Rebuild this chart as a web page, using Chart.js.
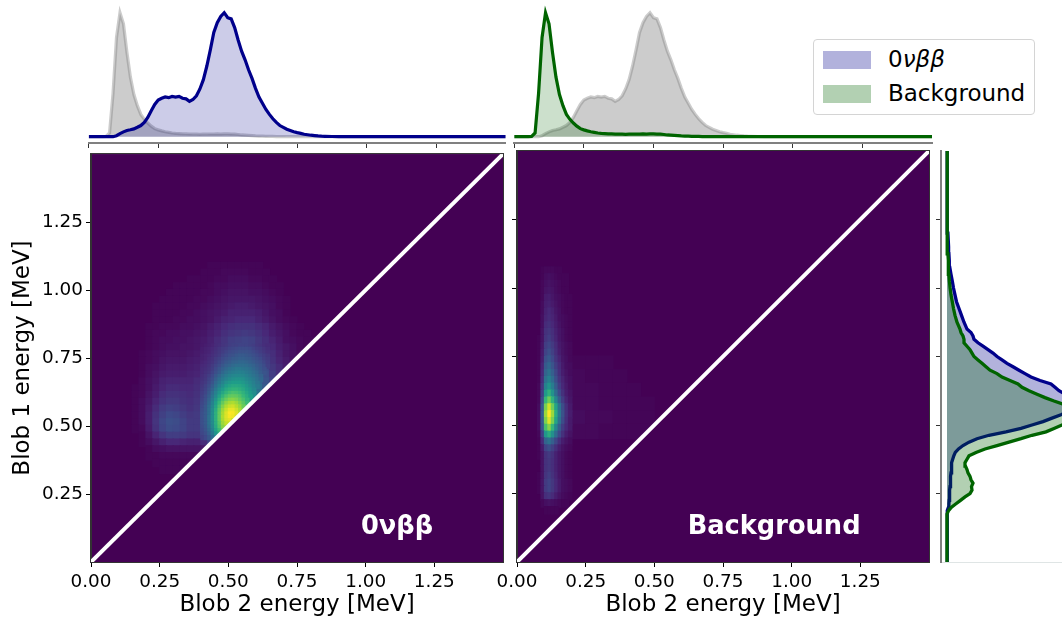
<!DOCTYPE html>
<html><head><meta charset="utf-8">
<style>
html,body{margin:0;padding:0;background:#fff;width:1062px;height:617px;overflow:hidden;font-family:"DejaVu Sans",sans-serif}
canvas{position:absolute}
#legend{position:absolute;left:813px;top:39px;width:220px;height:74px;border:1px solid #d4d4d4;border-radius:4px;background:#fff;box-sizing:content-box}
.sw{position:absolute;left:9px;width:48px;height:18px}
.tx{position:absolute;left:74px;font-size:23px;line-height:26px;color:#000;white-space:nowrap}
</style></head><body>
<canvas id="top1" width="450" height="150" style="left:70px;top:0"></canvas>
<canvas id="top2" width="450" height="150" style="left:500px;top:0"></canvas>
<canvas id="heat1" width="515" height="477" style="left:0;top:140px"></canvas>
<canvas id="heat2" width="450" height="477" style="left:480px;top:140px"></canvas>
<canvas id="side" width="132" height="477" style="left:930px;top:140px"></canvas>
<div id="legend">
 <div class="sw" style="top:11px;background:rgba(0,0,139,.3)"></div><div class="tx" style="top:6px">0<i>νββ</i></div>
 <div class="sw" style="top:45px;background:rgba(0,100,0,.3)"></div><div class="tx" style="top:40px">Background</div>
</div>
<script src="https://cdn.jsdelivr.net/npm/chart.js@4"></script>
<script>
// ---------- 1D spectrum of Blob 2 energy (relative counts)
const blob2Bins = [0,.0125,.025,.0375,.05,.0625,.075,.0875,.1,.1125,.125,.1375,.15,.1625,.175,.1875,.2,.2125,.225,.2375,
 .25,.2625,.275,.2875,.3,.3125,.325,.3375,.35,.3625,.375,.3875,.4,.4125,.425,.4375,.45,.4625,.475,.4875,
 .5,.5125,.525,.5375,.55,.5625,.575,.5875,.6,.6125,.625,.6375,.65,.6625,.675,.6875,.7,.7125,.725,.7375,
 .75,.7625,.775,.7875,.8,.8125,.825,.8375,.85,.875,.9,1,1.25,1.5];
const blob2Signal = [0,0,0,0,0,0,0,0,.8,2.5,3.9,5,5.6,6.3,7.6,9,11.5,15.5,21,26,
 29.5,31,32,31.5,32.5,32,32.5,31,30.5,28.5,30,33,38.5,46,57,70,84,92,97,100,
 96,95,88,78,69,62,54,47,39,32,27,22,18,14.5,11.5,9,7.5,6,5,4,
 3.3,2.7,2,1.6,1.2,.9,.6,.4,.3,.15,0,0,0,0];
const blob2Background = [0,0,0,0,0,.2,3,35,80,100,91,68,48,34,25,18,14,11,8.5,6.5,
 5.5,4.7,4,3.5,3,2.7,2.5,2.3,2.2,2.1,2,2,1.9,2,2,2.1,2.1,2.2,2.1,2.2,
 2.2,2.1,2,1.8,1.4,1.2,1,.8,.6,.5,.4,.3,.2,.2,.1,.1,.1,0,0,0,
 0,0,0,0,0,0,0,0,0,0,0,0,0,0];
// ---------- 1D spectrum of Blob 1 energy (relative counts)
const blob1Bins = [0,.15,.175,.1875,.2,.2125,.225,.2375,.25,.2625,
 .275,.2875,.3,.3125,.325,.3375,.35,.3625,.375,.3875,
 .4,.4125,.425,.4375,.45,.4625,.475,.4875,.5,.5125,
 .525,.5375,.55,.5625,.575,.5875,.6,.6125,.625,.6375,
 .65,.6625,.675,.6875,.7,.7125,.725,.7375,.75,.7625,
 .775,.7875,.8,.8125,.825,.8375,.85,.875,.9,.925,
 .95,.975,1,1.025,1.05,1.075,1.1,1.125,1.15,1.2,
 1.25,1.3,1.35,1.5];
const blob1Signal = [0,0,0,.8,1.5,1.9,2.2,2.4,2.6,2.8,
 3,3.3,3.5,3.8,4,4.3,4.6,4.9,5.7,6.8,
 8.3,11.5,16,22,30,42,59,74,85,96,
 105,114,122,127,130,128,123,118,112,108,
 104,93,84,78,72,66,60,55,50,46,
 41,36,31,27,26,24,20,17,14.5,12,
 9.5,8,6.5,5.3,4,2.8,2.3,1.9,1.6,.9,
 .5,.2,.1,0];
const blob1Background = [0,0,0,1.5,4.5,9,13.5,18,23,25,
 24.5,26,24,23,21,20,18.5,18,20,22,
 29,38,50,62,74,85,99,107,115,123,
 131,134,130,124,117,107,98,90,82,75,
 71,63,55,50,43,39,35,31,27,25,
 23,20,17,17,16,14,13,10,8,6.5,
 5.3,4,3.1,2.4,1.9,1.5,1.2,.9,.6,.3,
 .2,.1,0,0];
// ---------- 2D density of 0vbb: rows by Blob 1 energy (lower bin edge), columns by Blob 2 energy from 0.15 in 0.025 bins
const signalRowEnergy = [1.075,1.05,1.025,1,.975,.95,.925,.9,.875,.85,.825,.8,.775,.75,.725,.7,.675,.65,.625,.6,.575,.55,.525,.5,.475,.45,.425,.4,.375,.35,.325];
const signalRows = [
[0,0,0,0,0,0,0,0,0,0,0,1,1,1,1,1,1,1,1],
[0,0,0,0,0,0,0,0,0,0,1,1,1,2,2,2,2,1,1,1],
[0,0,0,0,0,0,0,0,1,1,1,1,2,2,3,3,3,2,2,1,1],
[0,0,0,0,0,0,1,1,1,1,1,2,3,3,4,4,4,3,3,2,1,1],
[0,0,0,0,0,1,1,1,1,1,2,2,3,4,5,5,5,4,4,3,2,1],
[0,0,0,0,1,1,1,1,1,2,2,3,4,5,6,6,6,6,5,4,3,2,1],
[0,0,0,1,1,1,1,1,2,2,3,4,5,6,7,8,8,7,6,5,4,2,1],
[0,0,0,1,1,1,1,2,2,3,4,5,6,7,9,9,9,9,8,6,4,3,1],
[0,0,0,1,1,1,2,2,3,3,4,5,7,9,10,11,11,11,9,7,5,3,2,1],
[0,0,1,1,2,2,2,3,3,4,5,7,9,11,13,14,14,14,12,10,7,5,3,2,1],
[0,0,1,2,2,3,3,4,4,5,6,8,10,13,15,16,17,16,14,11,8,6,4,2,1,1],
[0,0,1,2,3,3,4,4,5,6,7,9,12,15,18,19,20,19,16,13,10,7,4,3,2,1,1],
[0,0,1,2,3,4,4,5,5,6,8,10,14,18,21,23,23,22,19,15,11,8,6,4,2,1],
[0,1,2,3,4,5,5,5,6,7,9,12,17,21,25,27,27,25,22,17,13,9,6,4,2],
[0,1,2,3,5,6,6,6,7,8,10,14,20,25,30,32,32,29,25,20,14,10,7,4],
[0,1,3,4,6,7,7,7,8,9,12,17,24,30,36,38,37,33,28,22,16,12,8],
[0,1,3,5,7,8,8,8,9,10,14,20,29,36,42,44,42,37,31,24,18,13],
[0,2,4,6,9,10,10,10,10,12,16,24,34,44,50,52,48,42,33,26,20],
[1,2,4,7,10,12,12,11,11,13,18,28,40,52,60,60,54,46,36,28],
[1,2,5,8,12,14,14,13,12,14,20,33,48,62,71,69,60,48,38],
[1,3,6,10,14,16,16,14,13,15,22,38,57,74,85,80,65,50],
[1,3,7,12,17,19,18,16,14,16,25,42,65,86,98,90,72],
[1,3,8,14,19,22,21,18,16,17,26,44,70,92,100,92],
[1,3,8,15,21,24,23,20,17,17,26,44,70,90,92],
[1,2,7,14,20,23,22,20,17,17,24,40,62,78],
[0,1,5,10,15,18,18,17,15,15,21,34,50],
[0,1,3,6,9,11,11,10,9,9,12,20],
[0,0,1,3,4,5,5,5,5,5,6],
[0,0,1,1,2,2,2,2,2,2],
[0,0,0,1,1,1,1,1,1],
[0,0,0,0,1,1,1,1]];
// finer readout of the 0vbb core: columns from 0.4 in 0.0125 bins, rows 0.0125 tall
const coreRowEnergy = [.7875,.775,.7625,.75,.7375,.725,.7125,.7,.6875,.675,.6625,.65,.6375,.625,.6125,.6,.5875,.575,.5625,.55,.5375,.525,.5125,.5,.4875,.475,.4625,.45];
const coreRows = [
[7,8,9,10,12,13,15,16,18,19,19,20,20,20,19,18,16,15,13,12],
[8,9,10,11,13,15,17,18,20,21,22,23,23,23,22,20,18,17,15,13],
[8,9,10,12,14,16,18,20,22,23,24,25,25,25,24,22,20,18,16,14],
[9,10,11,13,15,17,20,22,24,25,27,28,28,27,26,24,22,20,18,16],
[9,10,12,14,17,19,22,24,26,28,29,30,30,29,28,26,24,22,19,17],
[10,11,13,15,18,21,24,27,29,31,32,33,33,32,30,28,26,24,21,18],
[11,12,14,17,20,23,27,30,32,34,36,36,36,35,33,31,28,26,23,19],
[12,13,15,18,22,26,30,33,36,38,40,40,39,38,36,33,30,27,24],
[12,14,16,20,24,28,33,37,40,42,43,44,43,41,39,36,33,29,26],
[13,15,18,22,27,32,37,41,44,46,47,47,46,44,41,38,35,31],
[14,16,20,24,30,36,41,45,48,50,51,51,50,47,44,41,37,33],
[15,17,21,26,33,39,45,50,53,55,55,55,53,50,47,43,39],
[16,19,23,29,36,43,49,55,58,60,60,59,57,53,49,45,41],
[17,20,25,32,40,48,54,60,63,65,65,63,60,56,52,47],
[18,21,27,35,44,52,59,65,69,71,70,68,64,59,54,49],
[19,23,29,38,47,57,65,71,75,76,75,72,67,62,56],
[20,24,31,41,51,62,71,77,81,82,80,76,71,65],
[21,25,33,44,55,67,76,83,87,88,85,80,74,68],
[22,27,35,46,58,71,81,88,92,93,89,84,77],
[23,27,36,48,61,74,85,92,97,97,93,87,80],
[24,28,36,49,63,76,87,95,100,99,95,88],
[24,28,37,49,63,76,88,95,99,98,93],
[24,28,37,49,63,76,87,94,96,92],
[24,28,37,48,62,74,85,91,92],
[23,27,35,46,60,72,82,86],
[22,26,33,44,57,68,78],
[21,24,30,40,52,62],
[19,22,27,35,44]];
// ---------- 2D density of background: narrow strip, columns from 0.0625 in 0.0125 bins, rows 0.025 tall
const backgroundRowEnergy = [1.05,1.025,1,.975,.95,.925,.9,.875,.85,.825,.8,.775,.75,.725,.7,.675,.65,.625,.6,.575,.55,.525,.5,.475,.45,.425,.4,.375,.35,.325,.3,.275,.25,.225,.2,.175];
const backgroundRows = [
[0,0,1,2,2,2,1,1,0,0,0],[0,0,1,3,4,3,2,1,1,1,0],[0,0,2,4,5,4,3,2,1,1,0],[0,0,2,5,6,5,3,2,1,1,0],
[0,0,2,7,8,6,4,3,2,1,1],[0,0,3,8,9,7,5,3,2,1,1],[0,0,3,9,11,9,6,4,2,1,1],[0,0,4,10,12,10,7,4,3,2,1],
[0,0,4,12,14,11,8,5,3,2,1],[0,0,5,14,16,13,9,6,4,2,1],[0,1,5,15,18,14,10,6,4,2,1],[0,1,6,18,21,17,12,7,5,3,2],
[0,1,7,20,24,19,13,8,5,3,2],[0,1,8,24,28,22,15,10,6,4,2],[0,1,10,28,33,26,18,12,7,4,3],[0,1,11,32,38,30,21,13,8,5,3],
[0,1,13,37,44,35,24,15,10,6,4],[0,2,16,44,52,42,29,18,11,7,4],[0,2,19,54,64,51,35,22,14,8,5],[0,2,23,66,78,64,46,29,18,10,6],
[0,3,28,79,93,78,58,38,23,13,7],[0,3,30,85,100,85,62,40,25,14,8],[0,3,28,80,95,80,58,37,23,13,7],[0,3,26,70,82,66,46,29,18,11,7],
[0,2,19,53,62,50,35,22,14,8,5],[0,1,12,32,38,30,21,13,8,5,3],[0,1,7,20,24,19,13,8,5,3,2],[0,1,5,14,17,14,9,6,4,2,1],
[0,0,5,14,16,13,9,6,4,2,1],[0,0,5,14,16,13,9,6,4,2,1],[0,1,5,15,18,14,10,6,4,2,1],[0,1,6,17,20,16,11,7,4,3,2],
[0,1,6,17,20,16,11,7,4,3,2],[0,0,5,13,15,12,8,5,3,2,1],[0,0,2,4,5,4,3,2,1,1,0],[0,0,0,1,1,1,1,0,0,0,0]];
// faint wing of the background density: columns from 0.2 in 0.05 bins, rows 0.05 tall
const wingRowEnergy = [.7,.65,.6,.55,.5,.45];
const wingRows = [[1,1,1,0,0,0],[2,1,1,1,0,0],[2,2,1,1,1,0],[2,2,1,1,1,1],[3,2,2,1,1,1],[2,2,1,1,1,1]];
// ---------- axis and labels
const diagonalEnds = [0,1.5];
const xLabel = 'Blob 2 energy [MeV]', yLabel = 'Blob 1 energy [MeV]';
const panelLabels = ['0νββ','Background'];

const VIRIDIS=[[68,1,84],[72,40,120],[62,74,137],[49,104,142],[38,130,142],[31,158,137],[53,183,121],[109,205,89],[180,222,44],[253,231,37]];
function viridis(v){const t=Math.max(0,Math.min(1,v/100))*(VIRIDIS.length-1),i=Math.min(Math.floor(t),VIRIDIS.length-2),f=t-i;
 const c=VIRIDIS[i].map((a,k)=>Math.round(a+(VIRIDIS[i+1][k]-a)*f));return `rgb(${c})`;}
function cells(rows,rowE,x0,dx,dy){const out=[];rows.forEach((r,j)=>r.forEach((v,i)=>{if(v>0)out.push({x:x0+dx*(i+.5),y:[rowE[j],rowE[j]+dy],v});}));return out;}
const pairs=(xs,ys)=>xs.map((x,i)=>({x,y:ys[i]}));
const BLUE='#00008b',GREEN='#006400',FONT='DejaVu Sans',GRAYS='#808080';
const fit=s=>(scale)=>{if(scale.isHorizontal())scale.height=s;else scale.width=s;};
const noT=(scale)=>{scale.ticks=scale.ticks.filter(t=>t.value<1.49);};
const noTB=(scale)=>{scale.ticks=scale.ticks.filter(t=>t.value<1.49&&t.value>0.01);};
const fmt=v=>Number(v).toFixed(2);
Chart.defaults.animation=false;Chart.defaults.font.family=FONT;Chart.defaults.color='#000';
const quiet={legend:{display:false},tooltip:{enabled:false}};

function heat(id,bars,label,labelX,axisW,padR,showY){
 const labelPlugin={id:'panel',
  beforeDraw(c){const a=c.chartArea,g=c.ctx;g.save();g.fillStyle='#440154';g.fillRect(a.left,a.top,a.width,a.height);g.restore();},
  afterDraw(c){const a=c.chartArea,g=c.ctx;g.save();g.strokeStyle='#333';g.lineWidth=1;g.strokeRect(a.left-.5,a.top-.5,a.width+1,a.height+1);
   g.fillStyle='#fff';g.font=`bold 25.7px "${FONT}"`;g.textAlign='center';g.textBaseline='middle';
   g.fillText(label,c.scales.x.getPixelForValue(labelX),c.scales.y.getPixelForValue(.128));g.restore();}};
 new Chart(document.getElementById(id),{type:'bar',plugins:[labelPlugin],
  data:{datasets:[...bars.map((b,k)=>({type:'bar',data:b.data,barThickness:b.th,grouped:false,order:9-k,inflateAmount:.6,borderWidth:0,
      backgroundColor:ctx=>ctx.raw?viridis(ctx.raw.v):'#440154'})),
    {type:'line',data:pairs(diagonalEnds,diagonalEnds),order:2,borderWidth:0,pointRadius:0,fill:'start',backgroundColor:'#440154',borderColor:'#440154'},
    {type:'line',data:pairs(diagonalEnds,diagonalEnds),order:1,borderWidth:4,pointRadius:0,fill:false,borderColor:'#fff'}]},
  options:{responsive:false,animation:false,layout:{padding:{left:0,right:padR,top:11,bottom:0}},plugins:quiet,
   scales:{
    x:{type:'linear',min:0,max:1.5,offset:false,afterFit:fit(55),afterBuildTicks:noT,
       grid:{offset:false,drawOnChartArea:false,tickLength:5,tickColor:'#000'},border:{color:'#333'},
       ticks:{stepSize:.25,font:{size:18.4},maxRotation:0,autoSkip:false,padding:4,callback:fmt},
       title:{display:true,text:xLabel,font:{size:23,lineHeight:1},padding:{top:0,bottom:0}}},
    y:{type:'linear',min:0,max:1.5,beginAtZero:true,afterFit:fit(axisW),afterBuildTicks:noTB,
       grid:{drawOnChartArea:false,tickLength:5,tickColor:'#000'},border:{color:'#333'},
       ticks:{display:showY,stepSize:.25,font:{size:18.4},padding:3,callback:fmt},
       title:{display:showY,text:yLabel,font:{size:23,lineHeight:1},padding:{top:12,bottom:0}}}
   }}});
}
heat('heat1',[{data:cells(signalRows,signalRowEnergy,.15,.025,.027),th:6.87},{data:cells(coreRows,coreRowEnergy,.4,.0125,.0145),th:3.43}],panelLabels[0],1.114,91,12,true);
heat('heat2',[{data:cells(wingRows,wingRowEnergy,.2,.05,.052),th:13.73},{data:cells(backgroundRows,backgroundRowEnergy,.0625,.0125,.027),th:3.43}],panelLabels[1],.936,37,1,false);

function topHist(id,padL,padR,under,over,underFill,underLine,overFill,overLine){
 new Chart(document.getElementById(id),{type:'line',
  data:{datasets:[
   {data:pairs(blob2Bins,over),order:1,borderColor:overLine,backgroundColor:overFill,borderWidth:3.2,pointRadius:0,fill:{value:0}},
   {data:pairs(blob2Bins,under),order:2,borderColor:underLine,backgroundColor:underFill,borderWidth:3.2,pointRadius:0,fill:{value:0}}]},
  options:{responsive:false,animation:false,layout:{padding:{left:padL,right:padR,top:5,bottom:0}},plugins:quiet,
   scales:{
    x:{type:'linear',min:0,max:1.5,afterFit:fit(7),afterBuildTicks:noT,
       grid:{drawOnChartArea:false,tickLength:5,tickColor:'#333'},border:{color:GRAYS,width:2},
       ticks:{stepSize:.25,display:false}},
    y:{type:'linear',min:-5.08,max:106.2,display:false}}}});
}
const GF='rgba(128,128,128,.4)',GL='rgba(128,128,128,.4)';
topHist('top1',18.7,14.3,blob2Background,blob2Signal,GF,GL,'rgba(0,0,139,.2)',BLUE);
topHist('top2',14.2,18,blob2Signal,blob2Background,GF,GL,'rgba(0,100,0,.2)',GREEN);

new Chart(document.getElementById('side'),{type:'line',
 data:{labels:blob1Bins,datasets:[
  {data:pairs(blob1Background,blob1Bins),order:1,borderColor:GREEN,backgroundColor:'rgba(0,100,0,.3)',borderWidth:3.3,pointRadius:0,fill:{value:0}},
  {data:pairs(blob1Signal,blob1Bins),order:2,borderColor:BLUE,backgroundColor:'rgba(0,0,139,.3)',borderWidth:3.3,pointRadius:0,fill:{value:0}}]},
 options:{indexAxis:'y',responsive:false,animation:false,layout:{padding:{left:0,right:0,top:11,bottom:0}},plugins:quiet,
  scales:{
   x:{type:'linear',min:-6,max:115,afterFit:fit(55),border:{color:'#dfe5e5',width:1},grid:{display:false},ticks:{display:false}},
   y:{type:'linear',min:0,max:1.5,afterFit:fit(11),afterBuildTicks:noTB,
      grid:{drawOnChartArea:false,tickLength:5,tickColor:'#333'},border:{color:GRAYS,width:2},
      ticks:{stepSize:.25,display:false}}}}});
</script>
</body></html>
